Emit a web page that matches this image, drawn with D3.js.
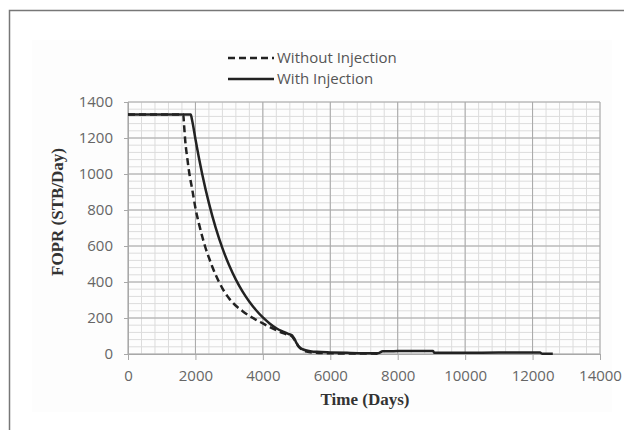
<!DOCTYPE html>
<html>
<head>
<meta charset="utf-8">
<script src="https://cdn.jsdelivr.net/npm/d3@7"></script>
<style>
  body { margin: 0; background: #fff; }
</style>
</head>
<body>
<div id="chart"></div>
<script>
const width = 624
const height = 430
const margin = { top: 102, bottom: 76, left: 128, right: 24 }

// FOPR (STB/Day) against time (days)
const withoutTime = [0, 1640, 1660, 1700, 1760, 1822, 1900, 2011, 2100, 2200, 2282, 2400, 2500, 2600, 2700, 2800, 2900, 3000, 3200, 3400, 3600, 3800, 4000, 4200, 4400, 4600, 4750, 4850, 4950, 5050, 5150, 5300, 5500, 6000, 6500, 7000, 7400]
const withoutRate = [1330, 1330, 1280, 1180, 1085, 1000, 920, 800, 727, 654, 600, 535, 485, 440, 400, 365, 335, 308, 268, 238, 212, 190, 170, 150, 132, 116, 106, 100, 75, 45, 26, 13, 7, 4, 3, 3, 2]
const withTime = [0, 1860, 1900, 2000, 2100, 2200, 2400, 2600, 2800, 3000, 3200, 3400, 3600, 3800, 4000, 4200, 4400, 4600, 4750, 4850, 4900, 4950, 5000, 5050, 5100, 5200, 5300, 5450, 5600, 6000, 6600, 7400, 7560, 8000, 9050, 9080, 10000, 11000, 12222, 12280, 12600]
const withRate = [1330, 1330, 1300, 1194, 1093, 1000, 838, 702, 588, 493, 413, 346, 290, 243, 203, 170, 143, 124, 112, 105, 95, 80, 60, 45, 35, 25, 19, 14, 12, 9, 6, 4, 15, 16, 17, 7, 7, 8, 8, 2, 2]

const xTicks = [0, 2000, 4000, 6000, 8000, 10000, 12000, 14000]
const yTicks = [0, 200, 400, 600, 800, 1000, 1200, 1400]
const legendLabels = ["Without Injection", "With Injection"]

const svg = d3.select("#chart").append("svg").attr("width", width).attr("height", height)

// outer frame of the figure
svg.append("rect").attr("x", 32).attr("y", 40).attr("width", 580).attr("height", 372).attr("fill", "#fdfdfd")
svg.append("rect").attr("x", 9.5).attr("y", 10.5).attr("width", 640).attr("height", 440)
    .attr("fill", "none").attr("stroke", "#777").attr("stroke-width", 1.5)

const x = d3.scaleLinear().domain([0, 14000]).range([margin.left, width - margin.right])
const y = d3.scaleLinear().domain([0, 1400]).range([height - margin.bottom, margin.top])

const grid = svg.append("g")
grid.selectAll(".minx").data(d3.range(0, 14001, 400)).enter().append("line")
    .attr("x1", d => x(d)).attr("x2", d => x(d)).attr("y1", y(0)).attr("y2", y(1400))
    .attr("stroke", "#dcdcdc").attr("stroke-width", 1)
grid.selectAll(".miny").data(d3.range(0, 1401, 40)).enter().append("line")
    .attr("x1", x(0)).attr("x2", x(14000)).attr("y1", d => y(d)).attr("y2", d => y(d))
    .attr("stroke", "#dcdcdc").attr("stroke-width", 1)
grid.selectAll(".majx").data(xTicks).enter().append("line")
    .attr("x1", d => x(d)).attr("x2", d => x(d)).attr("y1", y(0)).attr("y2", y(1400))
    .attr("stroke", "#a8a8a8").attr("stroke-width", 1)
grid.selectAll(".majy").data(yTicks).enter().append("line")
    .attr("x1", x(0)).attr("x2", x(14000)).attr("y1", d => y(d)).attr("y2", d => y(d))
    .attr("stroke", "#a8a8a8").attr("stroke-width", 1)

const xAxis = d3.axisBottom(x).tickValues(xTicks).tickSize(6).tickPadding(10).tickFormat(d3.format("d"))
const yAxis = d3.axisLeft(y).tickValues(yTicks).tickSize(4).tickPadding(11).tickFormat(d3.format("d"))

const xAxisGroup = svg.append("g").attr("transform", `translate(0, ${y(0)})`).call(xAxis)
const yAxisGroup = svg.append("g").attr("transform", `translate(${x(0)}, 0)`).call(yAxis)

for (const g of [xAxisGroup, yAxisGroup]) {
    g.select(".domain").attr("stroke", "#a8a8a8")
    g.selectAll(".tick line").attr("stroke", "#a8a8a8")
    g.selectAll(".tick text").attr("fill", "#666").style("font-family", "'Open Sans', sans-serif").style("font-size", "15px")
}

svg.append("text").attr("x", 365).attr("y", 405).attr("text-anchor", "middle")
    .style("font-family", "'Liberation Serif', serif").style("font-weight", "bold").style("font-size", "17px")
    .attr("fill", "#333").text("Time (Days)")
svg.append("text").attr("transform", `translate(63, 212) rotate(-90)`).attr("text-anchor", "middle")
    .style("font-family", "'Liberation Serif', serif").style("font-weight", "bold").style("font-size", "17px")
    .attr("fill", "#333").text("FOPR (STB/Day)")

const line = d3.line().x(d => x(d[0])).y(d => y(d[1])).curve(d3.curveMonotoneX)

svg.append("path").datum(d3.zip(withoutTime, withoutRate)).attr("d", line)
    .attr("fill", "none").attr("stroke", "#222").attr("stroke-width", 2.5).attr("stroke-dasharray", "7,4")
svg.append("path").datum(d3.zip(withTime, withRate)).attr("d", line)
    .attr("fill", "none").attr("stroke", "#222").attr("stroke-width", 2.5)

// legend
const legend = svg.append("g")
legendLabels.forEach((label, i) => {
    const ly = 58 + i * 21
    legend.append("line").attr("x1", 228).attr("x2", 274).attr("y1", ly).attr("y2", ly)
        .attr("stroke", "#222").attr("stroke-width", 2.5).attr("stroke-dasharray", i === 0 ? "7,4" : null)
    legend.append("text").attr("x", 277).attr("y", ly + 5)
        .style("font-family", "'Open Sans', sans-serif").style("font-size", "15px")
        .attr("fill", "#555").text(label)
})
</script>
</body>
</html>
